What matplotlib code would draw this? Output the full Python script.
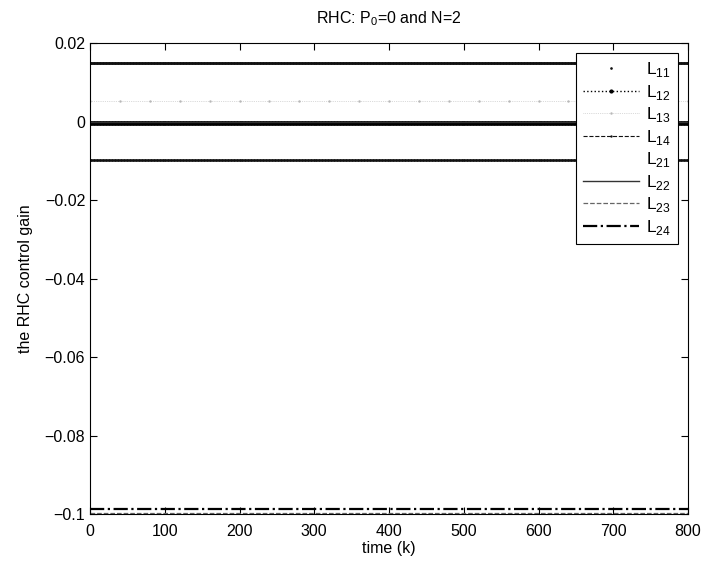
import numpy as np
import matplotlib.pyplot as plt

plt.rcParams['font.family'] = ['Liberation Sans', 'DejaVu Sans']
plt.rcParams['mathtext.fontset'] = 'custom'
plt.rcParams['mathtext.rm'] = 'Liberation Sans'

# time steps and the (steady) RHC gains
k = np.arange(0, 801)
labels = ['L$_{11}$', 'L$_{12}$', 'L$_{13}$', 'L$_{14}$',
          'L$_{21}$', 'L$_{22}$', 'L$_{23}$', 'L$_{24}$']
gains = [0.0150, -0.0003, 0.0051, -0.0098,
         0.0000, -0.0001, -0.0997, -0.0988]

styles = [
    dict(ls='none', marker='.', ms=1.8, color='#111111'),
    dict(ls=':', marker='.', ms=4, color='black', lw=1.0),
    dict(ls=':', marker='.', ms=1.5, color='#b8b8b8', lw=0.5, markevery=40),
    dict(ls='--', marker='.', ms=1.4, color='#111111', lw=0.8),
    dict(ls='-', color='white', lw=0.5, zorder=1),
    dict(ls='-', color='#333333', lw=1.0),
    dict(ls='--', color='#666666', lw=0.9),
    dict(ls='-.', color='black', lw=1.6),
]

fig = plt.figure(figsize=(7.11, 5.72), dpi=100)
ax = fig.add_axes([90/711, 1-514/572, (688-90)/711, (514-43)/572])

for lab, g, st in zip(labels, gains, styles):
    ax.plot(k, np.full(k.shape, g), label=lab, **st)

ax.set_xlim(0, 800)
ax.set_ylim(-0.1, 0.02)
ax.set_xticks(np.arange(0, 801, 100))
ax.set_yticks([-0.1, -0.08, -0.06, -0.04, -0.02, 0, 0.02])
ax.set_yticklabels(['\u22120.1', '\u22120.08', '\u22120.06', '\u22120.04',
                    '\u22120.02', '0', '0.02'])
ax.tick_params(direction='in', top=True, right=True, labelsize=11.5, length=5)
ax.tick_params(axis='x', pad=7)
ax.set_xlabel('time (k)', fontsize=11.5, labelpad=2)
ax.set_ylabel('the RHC control gain', fontsize=11.5, labelpad=8)
ax.set_title('RHC: P$_0$=0 and N=2', fontsize=11.5, pad=14)

leg = ax.legend(loc='upper right', fontsize=12.5, frameon=True, fancybox=False,
                edgecolor='black', framealpha=1, handlelength=3.2,
                borderaxespad=0.6, labelspacing=0.2, handletextpad=0.4)
leg.get_frame().set_linewidth(0.8)

fig.savefig('out.png', dpi=100)
